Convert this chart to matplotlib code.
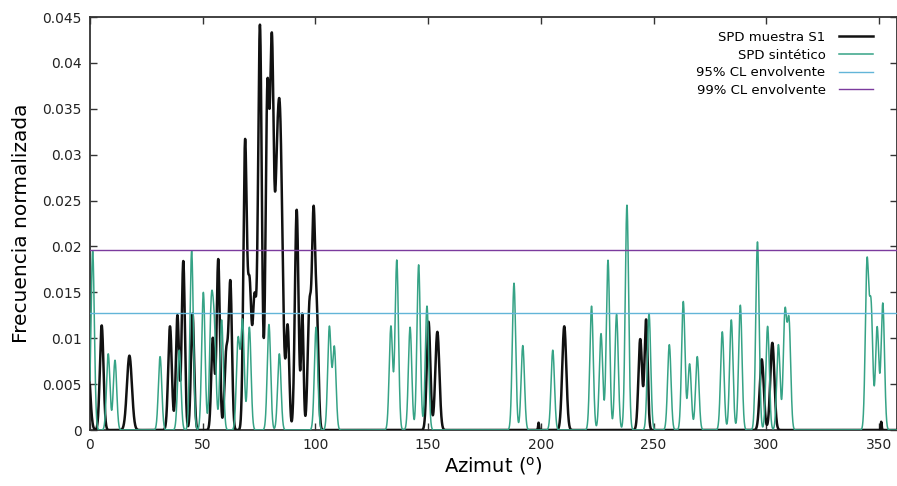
import numpy as np
import matplotlib
matplotlib.use("Agg")
import matplotlib.pyplot as plt
from matplotlib.ticker import FormatStrFormatter

# SPD muestra S1: peak azimuth (deg), peak height, spread (deg)
s1_center = [-1.0, 5.2, 17.5, 35.5, 38.8, 41.4, 45.5, 54.5, 56.9, 60.5, 62.3,
             68.8, 70.8, 73.0, 75.4, 78.7, 80.7, 82.6, 84.2, 87.7, 91.7, 94.2,
             97.4, 99.2, 100.7, 150.2, 154.1, 199.0, 210.4, 244.1, 246.7,
             298.0, 302.7, 351.0]
s1_height = [0.0080, 0.0114, 0.0081, 0.0113, 0.0125, 0.0184, 0.0127, 0.0100,
             0.0186, 0.0085, 0.0156, 0.0310, 0.0155, 0.0140, 0.0440, 0.0362,
             0.0405, 0.0120, 0.0340, 0.0110, 0.0240, 0.0125, 0.0135, 0.0222,
             0.0115, 0.0118, 0.0107, 0.0008, 0.0113, 0.0099, 0.0120, 0.0077,
             0.0095, 0.0009]
s1_spread = [1.0, 0.8, 1.1, 0.8, 0.7, 0.7, 0.7, 0.7, 0.7, 0.8, 0.7,
             0.75, 0.8, 0.8, 0.82, 0.8, 0.8, 0.8, 1.2, 0.7, 0.8, 0.55,
             0.8, 0.7, 0.7, 0.8, 0.9, 0.2, 0.9, 0.8, 0.7,
             0.9, 0.9, 0.2]

# SPD sintetico
syn_center = [1.2, 8.1, 11.1, 31.1, 39.6, 45.1, 50.3, 53.8, 55.2, 58.4,
              65.7, 67.7, 70.7, 79.4, 84.0, 100.3, 106.2, 108.4, 133.5,
              136.1, 142.0, 145.8, 149.5, 188.1, 192.0, 205.3, 222.5, 226.7,
              229.8, 233.6, 238.2, 248.0, 257.0, 263.2, 266.0, 269.4, 280.5,
              284.5, 288.5, 296.1, 300.6, 305.4, 308.3, 310.1, 344.7, 346.5,
              349.2, 351.7]
syn_height = [0.0195, 0.0083, 0.0076, 0.0080, 0.0087, 0.0195, 0.0150, 0.0128,
              0.0100, 0.0120, 0.0098, 0.0118, 0.0112, 0.0115, 0.0083, 0.0112,
              0.0112, 0.0090, 0.0113, 0.0185, 0.0112, 0.0180, 0.0135, 0.0160,
              0.0092, 0.0087, 0.0135, 0.0105, 0.0185, 0.0126, 0.0245, 0.0127,
              0.0093, 0.0140, 0.0072, 0.0080, 0.0107, 0.0120, 0.0136, 0.0205,
              0.0113, 0.0093, 0.0126, 0.0116, 0.0180, 0.0132, 0.0112, 0.0138]
syn_spread = 0.75

cl95 = 0.0127
cl99 = 0.0196

xg = np.linspace(-5, 365, 8000)


def spd(centers, heights, spreads):
    spreads = np.broadcast_to(spreads, np.shape(centers))
    y = np.zeros_like(xg)
    for c, h, s in zip(centers, heights, spreads):
        y += h * np.exp(-0.5 * ((xg - c) / s) ** 2)
    return y


y_s1 = spd(s1_center, s1_height, s1_spread)
y_syn = spd(syn_center, syn_height, syn_spread)

fig = plt.figure(figsize=(8.97, 4.86), dpi=100)
ax = fig.add_axes([0.1003, 0.1152, 0.8997, 0.8498])

ax.plot(xg, y_s1, color="#111111", lw=1.8, label="SPD muestra S1", zorder=3)
ax.plot(xg, y_syn, color="#36a386", lw=1.1, label="SPD sintético", zorder=4)
ax.axhline(cl95, color="#62b5d8", lw=1.0, label="95% CL envolvente", zorder=5)
ax.axhline(cl99, color="#7b3b9e", lw=1.0, label="99% CL envolvente", zorder=5)

ax.set_xlim(0, 358)
ax.set_ylim(0, 0.045)
ax.set_xticks(np.arange(0, 351, 50))
ax.set_yticks(np.arange(0, 0.0451, 0.005))
ax.yaxis.set_major_formatter(FormatStrFormatter("%g"))
ax.tick_params(direction="in", length=5, width=1, colors="#333333",
               labelcolor="#222222", labelsize=10, top=True, right=True, pad=6)
for sp in ax.spines.values():
    sp.set_color("#333333")
    sp.set_linewidth(1.3)

ax.set_xlabel(r"Azimut ($^{\mathrm{o}}$)", fontsize=14, labelpad=2)
ax.set_ylabel("Frecuencia normalizada", fontsize=14.5, labelpad=8)

ax.legend(loc="upper right", bbox_to_anchor=(0.985, 0.995), frameon=False,
          markerfirst=False, fontsize=9.5, handlelength=2.6,
          handletextpad=1.0, labelspacing=0.35)

fig.savefig("out.png", dpi=100)
